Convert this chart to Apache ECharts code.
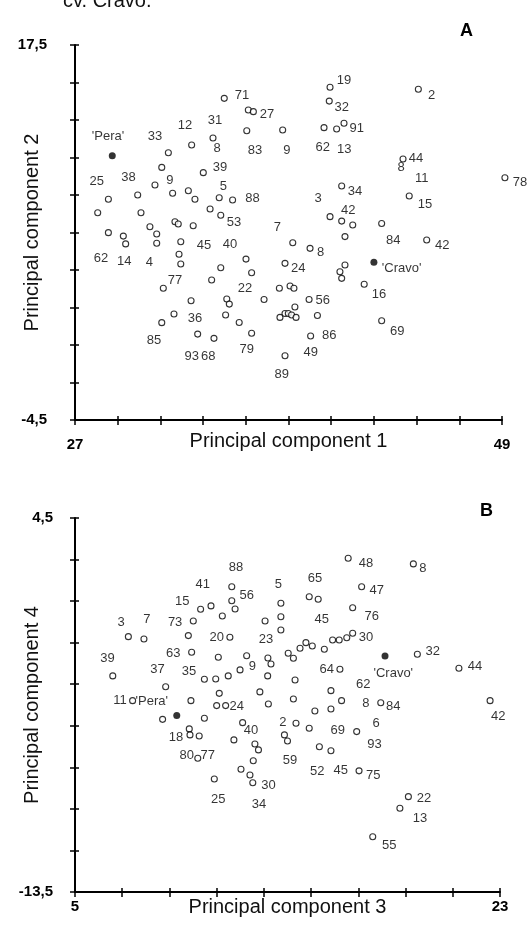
<!DOCTYPE html>
<html>
<head>
<meta charset="utf-8">
<script src="https://cdn.jsdelivr.net/npm/echarts@6/dist/echarts.min.js"></script>
<style>html,body{margin:0;padding:0;background:#fff}#chart{width:529px;height:925px}</style>
</head>
<body>
<div id="chart"></div>
<script>
// plot A : PC1 x PC2
var ticksXA = [27, 29.2, 31.4, 33.6, 35.8, 38, 40.2, 42.4, 44.6, 46.8, 49];
var ticksYA = [-4.5, -2.3, -0.1, 2.1, 4.3, 6.5, 8.7, 10.9, 13.1, 15.3, 17.5];
var ptsA = [
  [34.69,14.37],[35.93,13.69],[36.19,13.59],[35.85,12.47],[37.70,12.51],[33.01,11.63],[34.11,12.04],[31.81,11.18],[31.47,10.32],[33.61,10.01],
  [31.12,9.29],[32.03,8.80],[30.23,8.70],[28.72,8.45],[32.84,8.95],[33.18,8.45],[34.43,8.54],[35.12,8.41],[28.17,7.66],[30.40,7.66],
  [33.96,7.88],[34.51,7.51],[30.86,6.84],[32.15,7.13],[32.32,7.00],[33.09,6.90],[40.14,15.02],[44.69,14.90],[40.10,14.21],[39.83,12.65],
  [40.48,12.57],[40.86,12.91],[43.90,10.81],[49.15,9.71],[40.74,9.23],[44.22,8.64],[40.14,7.43],[40.74,7.17],[41.31,6.94],[42.80,7.03],
  [40.91,6.26],[45.12,6.06],[38.22,5.90],[39.11,5.57],[35.81,4.94],[37.82,4.69],[36.10,4.14],[40.91,4.59],[40.65,4.20],[40.74,3.81],
  [41.90,3.46],[37.53,3.23],[38.08,3.36],[38.28,3.23],[36.74,2.57],[39.06,2.57],[38.33,2.13],[37.56,1.52],[37.82,1.75],[37.99,1.75],
  [38.16,1.66],[38.39,1.52],[39.49,1.63],[42.80,1.32],[39.14,0.43],[37.82,-0.73],[35.46,1.22],[28.72,6.49],[29.49,6.29],[29.61,5.83],
  [31.21,6.41],[31.21,5.87],[32.45,5.96],[32.36,5.22],[32.45,4.65],[34.51,4.43],[31.55,3.23],[34.04,3.71],[32.98,2.50],[34.82,2.60],
  [34.95,2.30],[32.10,1.72],[31.47,1.21],[34.76,1.66],[33.32,0.54],[34.16,0.29],[36.10,0.59]
];
var cultivarsA = [[28.92,11.01],[42.40,4.75]];
var labelsA = [
  [28.70,12.16,"'Pera'"],[31.12,12.16,'33'],[32.67,12.81,'12'],[34.21,13.10,'31'],[35.60,14.57,'71'],[36.89,13.45,'27'],
  [36.27,11.34,'83'],[37.91,11.30,'9'],[34.32,11.46,'8'],[34.47,10.32,'39'],[28.12,9.48,'25'],[29.75,9.74,'38'],
  [31.89,9.58,'9'],[34.64,9.23,'5'],[36.15,8.51,'88'],[35.19,7.07,'53'],[37.43,6.82,'7'],[40.86,15.45,'19'],
  [45.38,14.57,'2'],[40.74,13.82,'32'],[41.51,12.61,'91'],[39.76,11.50,'62'],[40.87,11.40,'13'],[44.57,10.87,'44'],
  [43.80,10.34,'8'],[44.86,9.68,'11'],[49.93,9.42,'78'],[41.43,8.93,'34'],[39.53,8.51,'3'],[45.03,8.15,'15'],
  [41.08,7.82,'42'],[43.40,6.02,'84'],[45.92,5.72,'42'],[39.66,5.36,'8'],[43.83,4.40,"'Cravo'"],[38.50,4.39,'24'],
  [42.66,2.89,'16'],[39.76,2.50,'56'],[43.60,0.68,'69'],[40.10,0.47,'86'],[39.14,-0.55,'49'],[37.65,-1.80,'89'],
  [33.65,5.72,'45'],[34.99,5.82,'40'],[28.34,4.99,'62'],[29.54,4.79,'14'],[30.83,4.75,'4'],[32.15,3.67,'77'],
  [35.76,3.23,'22'],[33.18,1.47,'36'],[31.07,0.15,'85'],[33.01,-0.79,'93'],[33.87,-0.75,'68'],[35.85,-0.34,'79']
];

// plot B : PC3 x PC4
var ticksXB = [5, 7, 9, 11, 13, 15, 17, 19, 21, 23];
var ticksYB = [-13.5, -11.5, -9.5, -7.5, -5.5, -3.5, -1.5, 0.5, 2.5, 4.5];
var ptsB = [
  [11.64,1.19],[11.64,0.52],[11.78,0.12],[10.32,0.11],[10.76,0.27],[11.24,-0.22],[13.72,0.40],[13.72,-0.25],[13.72,-0.89],[13.05,-0.46],
  [10.01,-0.46],[7.26,-1.21],[7.92,-1.32],[9.80,-1.16],[11.56,-1.24],[9.94,-1.96],[11.07,-2.20],[12.27,-2.13],[11.99,-2.81],[13.17,-2.24],
  [13.30,-2.53],[14.03,-2.01],[14.25,-2.25],[10.48,-3.26],[10.96,-3.25],[11.49,-3.10],[13.16,-3.10],[6.60,-3.10],[8.84,-3.62],[11.11,-3.94],
  [12.83,-3.87],[7.44,-4.29],[9.91,-4.29],[11.00,-4.53],[11.38,-4.53],[13.19,-4.45],[8.71,-5.19],[10.48,-5.14],[9.84,-5.65],[9.87,-5.94],
  [10.26,-5.99],[12.10,-5.35],[11.73,-6.18],[12.62,-6.38],[12.77,-6.66],[10.20,-7.06],[12.55,-7.18],[12.03,-7.59],[12.41,-7.87],[12.53,-8.24],
  [10.90,-8.06],[16.57,2.56],[19.33,2.29],[14.92,0.71],[15.30,0.59],[17.14,1.19],[16.76,0.18],[15.91,-1.37],[16.19,-1.37],[16.51,-1.26],
  [16.76,-1.05],[14.53,-1.77],[14.78,-1.50],[15.05,-1.66],[15.56,-1.82],[19.50,-2.06],[21.26,-2.73],[16.22,-2.78],[14.32,-3.30],[15.84,-3.81],
  [14.25,-4.21],[16.29,-4.29],[17.95,-4.39],[15.16,-4.79],[15.84,-4.69],[22.58,-4.29],[14.36,-5.38],[14.92,-5.62],[16.93,-5.78],[13.87,-5.94],
  [14.00,-6.23],[15.35,-6.51],[15.84,-6.70],[17.03,-7.67],[19.12,-8.91],[18.76,-9.47],[17.61,-10.84]
];
var cultivarsB = [[9.31,-5.01],[18.13,-2.14]];
var labelsB = [
  [11.82,2.13,'88'],[10.41,1.28,'41'],[12.27,0.79,'56'],[13.61,1.31,'5'],[9.54,0.47,'15'],[6.95,-0.54,'3'],
  [8.04,-0.37,'7'],[9.24,-0.52,'73'],[11.00,-1.24,'20'],[13.09,-1.32,'23'],[6.38,-2.25,'39'],[9.16,-2.01,'63'],
  [12.51,-2.62,'9'],[8.49,-2.77,'37'],[9.83,-2.90,'35'],[6.91,-4.29,'11'],[8.25,-4.32,"'Pera'"],[11.85,-4.58,'24'],
  [9.28,-6.05,'18'],[12.45,-5.74,'40'],[13.80,-5.32,'2'],[9.73,-6.95,'80'],[10.62,-6.95,'77'],[11.07,-9.04,'25'],
  [13.19,-8.35,'30'],[12.79,-9.28,'34'],[14.11,-7.19,'59'],[17.32,2.32,'48'],[19.73,2.08,'8'],[15.16,1.60,'65'],
  [17.78,1.00,'47'],[17.57,-0.25,'76'],[15.45,-0.36,'45'],[17.32,-1.26,'30'],[18.48,-2.97,"'Cravo'"],[20.15,-1.93,'32'],
  [21.94,-2.66,'44'],[15.66,-2.81,'64'],[17.21,-3.49,'62'],[17.32,-4.42,'8'],[18.48,-4.55,'84'],[22.93,-5.06,'42'],
  [17.75,-5.38,'6'],[16.13,-5.74,'69'],[17.68,-6.39,'93'],[15.26,-7.71,'52'],[16.25,-7.63,'45'],[17.63,-7.90,'75'],
  [19.78,-9.02,'22'],[19.61,-9.95,'13'],[18.31,-11.27,'55']
];

var FONT = 'Liberation Sans, Arial, sans-serif';
var INK = '#000';

function commaFmt(v) {
  return String(v).replace('.', ',');
}

// main axis (outer ticks, end labels, name) + overlay axis (inner ticks) so ticks cross the line
function axisPair(dim, grid, min, max, ticks, name, labelMargin, nameGap) {
  var pos = dim == 'x' ? 'bottom' : 'left';
  var tickStyle = { color: '#000', width: 1.5 };
  var main = {
    type: 'value', gridIndex: grid, position: pos, min: min, max: max,
    axisLine: { onZero: false, lineStyle: { color: '#000', width: 2 } },
    axisTick: { inside: false, length: 5, customValues: ticks, lineStyle: tickStyle },
    axisLabel: {
      customValues: [min, max], formatter: commaFmt, margin: labelMargin,
      fontFamily: FONT, fontWeight: 'bold', fontSize: 15, color: '#000'
    },
    splitLine: { show: false },
    name: name, nameLocation: 'middle', nameGap: nameGap, nameMoveOverlap: false,
    nameTextStyle: { fontFamily: FONT, fontSize: 20, color: '#111' }
  };
  var inner = {
    type: 'value', gridIndex: grid, position: pos, min: min, max: max,
    axisLine: { show: false, onZero: false },
    axisTick: { inside: true, length: 4, customValues: ticks, lineStyle: tickStyle },
    axisLabel: { show: false },
    splitLine: { show: false }
  };
  return [main, inner];
}

function pointSeries(ax, data) {
  return {
    type: 'scatter', xAxisIndex: ax, yAxisIndex: ax, data: data, clip: false,
    symbol: 'circle', symbolSize: 6, silent: true,
    itemStyle: { color: '#fff', borderColor: '#000', borderWidth: 1.1 }
  };
}

function cultivarSeries(ax, data) {
  return {
    type: 'scatter', xAxisIndex: ax, yAxisIndex: ax, data: data, clip: false,
    symbol: 'circle', symbolSize: 7, silent: true,
    itemStyle: { color: '#000' }
  };
}

function labelSeries(ax, data) {
  return {
    type: 'scatter', xAxisIndex: ax, yAxisIndex: ax, data: data, clip: false,
    symbolSize: 0, silent: true, z: 5,
    label: {
      show: true, position: 'inside', formatter: function (p) { return p.value[2]; },
      fontFamily: FONT, fontSize: 13, color: INK
    }
  };
}

var xa = axisPair('x', 0, 27, 49, ticksXA, 'Principal component 1', 17, 11);
var ya = axisPair('y', 0, -4.5, 17.5, ticksYA, 'Principal component 2', 28, 33);
var xb = axisPair('x', 1, 5, 23, ticksXB, 'Principal component 3', 7, 5);
var yb = axisPair('y', 1, -13.5, 4.5, ticksYB, 'Principal component 4', 22, 33);

var mychart = echarts.init(document.getElementById('chart'));
var option = {
  backgroundColor: '#fff',
  animation: false,
  title: [
    { text: 'cv. Cravo.', left: 58, top: -14, textStyle: { fontFamily: FONT, fontSize: 20, fontWeight: 'normal', color: '#111' } },
    { text: 'A', left: 455, top: 17, textStyle: { fontFamily: FONT, fontSize: 18, fontWeight: 'bold', color: '#000' } },
    { text: 'B', left: 475, top: 497, textStyle: { fontFamily: FONT, fontSize: 18, fontWeight: 'bold', color: '#000' } }
  ],
  grid: [
    { left: 75, top: 45, width: 427, height: 375 },
    { left: 75, top: 518, width: 425, height: 374 }
  ],
  xAxis: xa.concat(xb),
  yAxis: ya.concat(yb),
  series: [
    pointSeries(0, ptsA), cultivarSeries(0, cultivarsA), labelSeries(0, labelsA),
    pointSeries(2, ptsB), cultivarSeries(2, cultivarsB), labelSeries(2, labelsB)
  ]
};
mychart.setOption(option);
</script>
</body>
</html>
